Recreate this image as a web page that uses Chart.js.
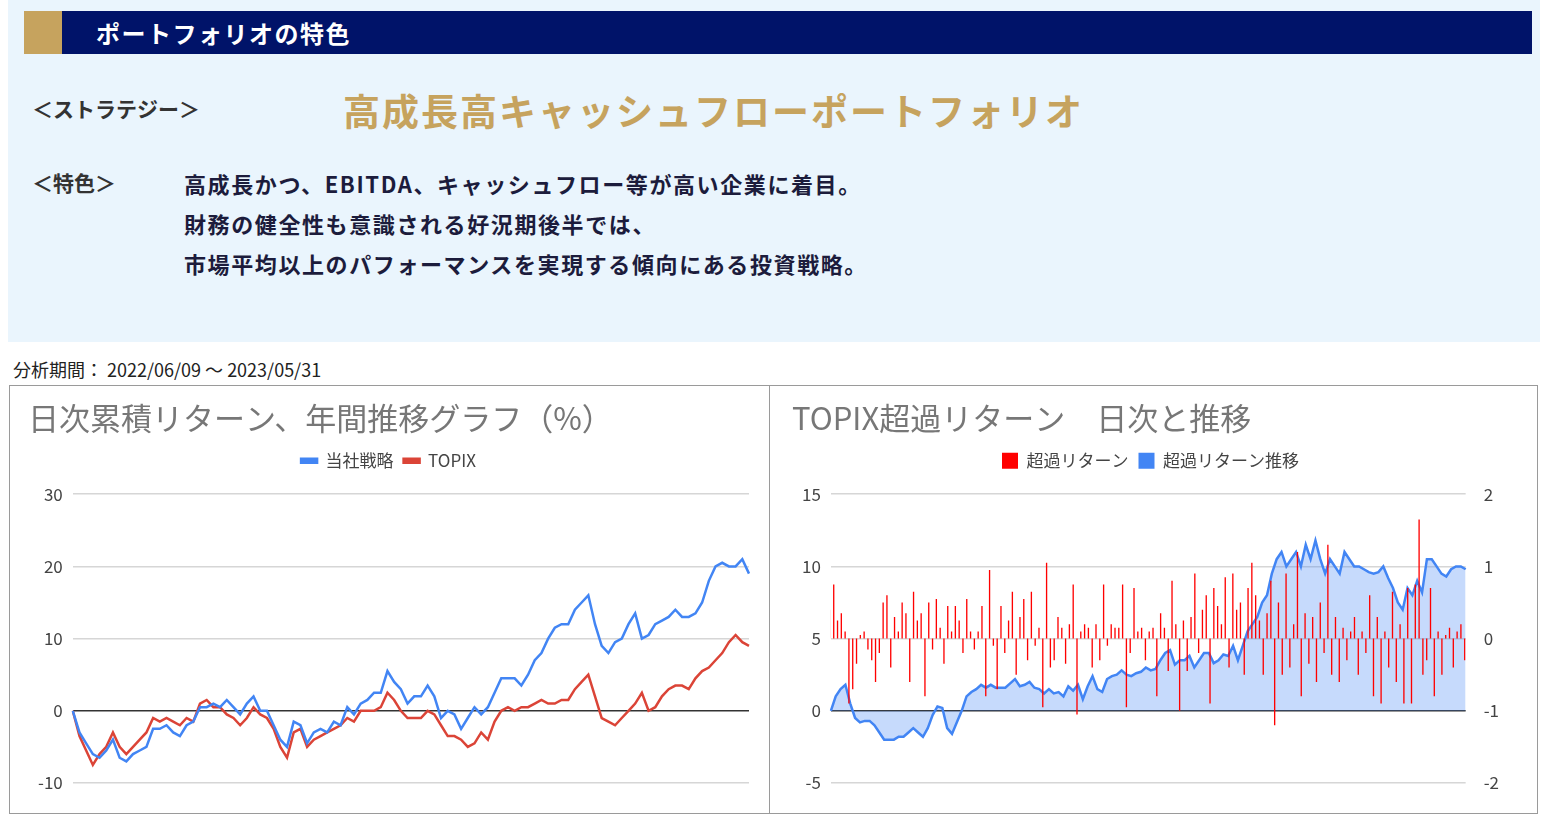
<!DOCTYPE html>
<html><head><meta charset="utf-8">
<script src="https://cdn.jsdelivr.net/npm/chart.js@4"></script>
<style>
body{margin:0;width:1545px;height:823px;background:#fff;font-family:"Noto Sans CJK JP",sans-serif;position:relative;overflow:hidden}
.top{position:absolute;left:8px;top:0;width:1532px;height:342px;background:#eaf5fd}
.bar{position:absolute;left:24px;top:11px;width:1508px;height:43px;background:#001369}
.gold{position:absolute;left:24px;top:11px;width:38px;height:43px;background:#c6a35e}
.bar span{position:absolute;left:72px;top:4px;color:#fff;font-size:24px;font-weight:bold;letter-spacing:1.5px}
.t{position:absolute;color:#222;font-weight:bold}
.box{position:absolute;top:385px;height:429px;border:1px solid #9a9a9a;box-sizing:border-box}
</style></head><body>
<div class="top"></div>
<div class="bar"></div><div class="gold"></div>
<div class="bar" style="background:none"><span>ポートフォリオの特色</span></div>
<div class="t" style="left:32px;top:93px;font-size:21px;color:#333">＜ストラテジー＞</div>
<div class="t" style="left:343px;top:83px;font-size:37px;color:#c6a35e;letter-spacing:2px">高成長高キャッシュフローポートフォリオ</div>
<div class="t" style="left:32px;top:167px;font-size:21px;color:#333">＜特色＞</div>
<div class="t" style="left:184px;top:163px;font-size:22px;line-height:40px;letter-spacing:1.6px;color:#1c1c3c">高成長かつ、EBITDA、キャッシュフロー等が高い企業に着目。<br>財務の健全性も意識される好況期後半では、<br>市場平均以上のパフォーマンスを実現する傾向にある投資戦略。</div>
<div style="position:absolute;left:13px;top:356px;font-size:18px;color:#222">分析期間： 2022/06/09 ～ 2023/05/31</div>
<div class="box" style="left:9px;width:761px"><canvas id="c1" width="759" height="427"></canvas></div>
<div class="box" style="left:769px;width:769px"><canvas id="c2" width="767" height="427"></canvas></div>
<script>
const strategy = [0,-3,-4.5,-6,-6.5,-5.5,-4,-6.5,-7,-6,-5.5,-5,-2.5,-2.5,-2,-3,-3.5,-2,-1.5,0.5,0.5,1,0.5,1.5,0.5,-0.5,1,2,0,0,-2,-4,-5,-1.5,-2,-4.5,-3,-2.5,-3,-1.5,-2,0.5,-0.5,1,1.5,2.5,2.5,5.5,4,3,1,2,2,3.5,2,-1,0,-0.5,-2.5,-1,0.5,-0.5,0.5,2.5,4.5,4.5,4.5,3.5,5,7,8,10,11.5,12,12,14,15,16,12,9,8,9.5,10,12,13.5,10,10.5,12,12.5,13,14,13,13,13.5,15,18,20,20.5,20,20,21,19];
const topix = [0,-3.5,-5.5,-7.5,-6,-5,-3,-5,-6,-5,-4,-3,-1,-1.5,-1,-1.5,-2,-1,-1.5,1,1.5,0.5,0.5,-0.5,-1,-2,-1,0.5,-0.5,-1,-2.5,-5,-6.5,-3,-2.5,-5,-4,-3.5,-3,-2.5,-2,-1,-1.5,0,0,0,0.5,2.5,1.5,0,-1,-1,-1,0,-0.5,-2,-3.5,-3.5,-4,-5,-4.5,-3,-4,-1.5,0,0.5,0,0.5,0.5,1,1.5,1,1,1.5,1.5,3,4,5,2,-1,-1.5,-2,-1,0,1,2.5,0,0.5,2,3,3.5,3.5,3,4.5,5.5,6,7,8,9.5,10.5,9.5,9,10,8.5];
const excessTrend = [0,1,1.5,1.8,0.5,-0.5,-0.8,-0.7,-0.7,-1,-1.5,-2,-2,-2,-1.8,-1.8,-1.5,-1.2,-1.5,-1.8,-1.2,-0.3,0.3,0.2,-1.2,-1.6,-0.8,0,1,1.3,1.5,1.8,1.6,1.8,1.6,1.6,1.6,1.9,2.2,1.7,1.8,2,1.6,1.5,1.2,1.5,1.2,1.3,1,1.7,1.4,1.8,0.8,1.7,2.4,1.5,1.3,2.2,2.4,2.5,2.8,2.5,2.4,2.6,2.7,3,2.8,2.9,3.5,4,4.2,3.2,3.5,3.5,3.8,3,3.5,4,4,3.3,3.5,3.9,3.8,4.5,3.5,4.5,5.5,6,6.5,7.5,8,9.5,10.5,11,10,10.5,11,10,11.5,10.5,11.8,10.5,9.5,10.5,10,9.5,11,10.5,10,10,9.8,9.6,9.5,9.6,10,9.2,8.5,7.5,7,8.5,8,9,8.2,10.5,10.5,10,9.5,9.3,9.8,10,10,9.8];
const excessDaily = [0.4,0.75,0.25,0.35,0.1,-0.9,-0.7,-0.35,0.05,0.1,-0.15,-0.3,-0.6,-0.2,0.5,0.6,-0.4,0.3,0.1,0.5,0.35,-0.6,0.65,0.25,0.35,-0.8,0.5,-0.15,0.55,0.15,-0.35,0.45,0.1,0.45,0.25,-0.2,0.55,0.1,-0.15,0.1,0.45,-0.8,0.95,-0.1,-0.7,0.45,-0.2,0.25,0.65,-0.5,0.3,0.55,-0.3,0.65,-0.1,0.15,-0.95,1.05,-0.4,-0.3,0.3,0.15,-0.35,0.2,0.75,-1.05,0.1,0.2,0.15,-0.4,0.2,-0.3,0.75,-0.1,0.2,0.15,0.15,0.75,-0.95,-0.2,0.7,0.1,0.15,-0.3,0.1,0.15,-0.8,0.35,0.15,-0.45,0.8,0.2,-1.0,0.25,-0.45,0.3,0.9,-0.2,0.4,0.6,-0.9,0.7,0.45,0.2,0.85,-0.4,0.9,0.4,0.5,-0.5,0.7,1.05,0.6,0.25,-0.5,0.35,0.8,-1.2,0.5,-0.5,0.9,-0.4,0.2,1.2,-0.8,0.35,-0.35,0.3,-0.6,0.5,-0.2,1.3,-0.5,0.3,-0.6,0.15,-0.3,0.1,0.3,-0.5,0.1,-0.2,0.6,-0.8,0.3,-0.9,0.1,-0.4,0.65,-0.6,0.2,-0.9,0.7,-0.9,0.75,1.65,-0.5,-0.3,0.7,-0.8,0.1,-0.5,0.05,0.15,-0.4,0.1,0.2,-0.3];
const leftTicks = [-10,0,10,20,30];

Chart.defaults.font.family = '"Noto Sans CJK JP", sans-serif';
Chart.defaults.animation = false;
Chart.defaults.color = '#444';

// extra space under the legend
const legendGap = {id:'legendGap', afterInit(chart){
	const fit = chart.legend.fit;
	chart.legend.fit = function(){ fit.call(this); this.height += 15; };
}};

function gridColor(ctx){ return ctx.tick && ctx.tick.value === 0 ? '#333' : '#d6d6d6'; }
function titleOpts(text){
	return {display:true,text:text,align:'start',color:'#777',font:{size:31,weight:'normal'},padding:{top:14,bottom:5}};
}

new Chart('c1',{
	type:'line',
	data:{
		labels:strategy.map((v,i)=>i),
		datasets:[
			{label:'当社戦略',data:strategy,borderColor:'#4285f4',backgroundColor:'#4285f4',borderWidth:2.5,pointRadius:0,tension:0},
			{label:'TOPIX',data:topix,borderColor:'#db4437',backgroundColor:'#db4437',borderWidth:2.5,pointRadius:0,tension:0}
		]
	},
	plugins:[legendGap],
	options:{
		responsive:false,
		layout:{padding:{left:18,right:20,bottom:30}},
		plugins:{
			title:titleOpts('日次累積リターン、年間推移グラフ（%）'),
			legend:{labels:{boxWidth:16,boxHeight:4,font:{size:17},color:'#444',padding:10}}
		},
		scales:{
			x:{display:false},
			y:{min:-10,max:30,afterBuildTicks:a=>{a.ticks=leftTicks.map(v=>({value:v}))},
				border:{display:false},grid:{color:gridColor,lineWidth:1.5,drawTicks:false},
				ticks:{padding:10,font:{size:17},color:'#444'}}
		}
	}
});

new Chart('c2',{
	data:{
		datasets:[
			{type:'bar',label:'超過リターン',data:excessDaily,xAxisID:'xb',yAxisID:'y2',backgroundColor:'#ff0000',borderWidth:0,barPercentage:0.7,categoryPercentage:1},
			{type:'line',label:'超過リターン推移',data:excessTrend,xAxisID:'xl',yAxisID:'y',borderColor:'#4285f4',backgroundColor:'rgba(66,133,244,0.3)',fill:'origin',borderWidth:2.5,pointRadius:0,tension:0}
		]
	},
	plugins:[legendGap],
	options:{
		responsive:false,
		layout:{padding:{left:22,right:28,bottom:30}},
		plugins:{
			filler:{drawTime:'beforeDatasetsDraw'},
			title:titleOpts('TOPIX超過リターン　日次と推移'),
			legend:{labels:{boxWidth:16,boxHeight:16,font:{size:17},color:'#444',padding:10,
				generateLabels:ch=>ch.data.datasets.map((d,i)=>({text:d.label,fillStyle:i?'#4285f4':'#ff0000',strokeStyle:'transparent',lineWidth:0,datasetIndex:i,fontColor:'#444'}))}}
		},
		scales:{
			xb:{type:'category',labels:excessDaily.map((v,i)=>i),display:false,offset:false},
			xl:{type:'category',labels:excessTrend.map((v,i)=>i),display:false,offset:false},
			y:{position:'left',min:-5,max:15,ticks:{stepSize:5,padding:10,font:{size:17},color:'#444'},
				border:{display:false},grid:{color:gridColor,lineWidth:1.5,drawTicks:false}},
			y2:{position:'right',min:-2,max:2,ticks:{stepSize:1,padding:10,font:{size:17},color:'#444'},
				border:{display:false},grid:{display:false}}
		}
	}
});
</script>
</body></html>
